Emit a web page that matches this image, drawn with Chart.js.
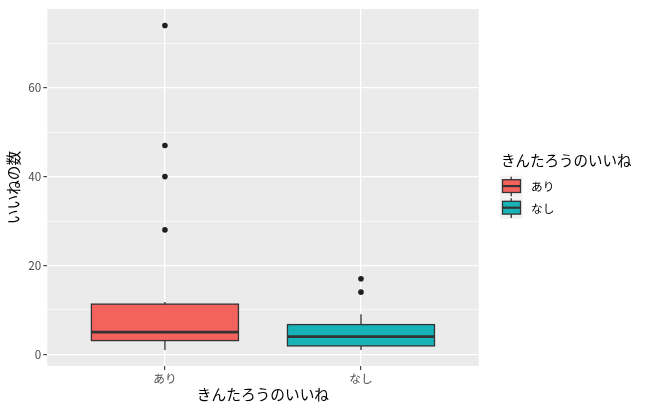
<!DOCTYPE html>
<html lang="ja">
<head>
<meta charset="utf-8">
<script src="https://cdn.jsdelivr.net/npm/chart.js@4.4.1/dist/chart.umd.min.js"></script>
<style>
  html, body { margin: 0; padding: 0; background: #fff; }
  #wrap { width: 647px; height: 410px; }
</style>
</head>
<body>
<div id="wrap"><canvas id="likesChart"></canvas></div>
<script>
// データ
const groups = ['あり', 'なし'];
const groupColors = ['#F4625E', '#17B3B8'];
const whiskerLow = [1, 1];
const q1 = [3.1, 1.9];
const medians = [5, 4];
const q3 = [11.3, 6.7];
const whiskerHigh = [11.8, 9];
const outliersAri = [74, 47, 40, 28];
const outliersNashi = [17, 14];
const yTicks = [0, 10, 20, 30, 40, 50, 60, 70];
const yLabelTicks = [0, 20, 40, 60];

const FONT = "'Noto Sans CJK JP', 'Noto Sans', sans-serif";
const LINE = '#333333';

const outlierPoints = [
    ...outliersAri.map(v => ({ x: 1, y: v })),
    ...outliersNashi.map(v => ({ x: 2, y: v }))
];

// パネル背景
const panelBackground = {
    id: 'panelBackground',
    beforeDraw(chart) {
        const { ctx, chartArea: a } = chart;
        ctx.save();
        ctx.fillStyle = '#EBEBEB';
        ctx.fillRect(a.left, a.top, a.right - a.left, a.bottom - a.top);
        ctx.restore();
    }
};

// 箱ひげ図
const boxes = {
    id: 'boxes',
    beforeDatasetsDraw(chart) {
        const { ctx, scales: { x, y } } = chart;
        const halfWidth = 0.375;
        ctx.save();
        groups.forEach((g, i) => {
            const cx = x.getPixelForValue(i + 1);
            const left = x.getPixelForValue(i + 1 - halfWidth);
            const right = x.getPixelForValue(i + 1 + halfWidth);
            const yQ1 = y.getPixelForValue(q1[i]);
            const yQ3 = y.getPixelForValue(q3[i]);

            ctx.strokeStyle = LINE;
            ctx.lineWidth = 1.3;
            ctx.beginPath();
            ctx.moveTo(cx, y.getPixelForValue(whiskerLow[i]));
            ctx.lineTo(cx, yQ1);
            ctx.moveTo(cx, yQ3);
            ctx.lineTo(cx, y.getPixelForValue(whiskerHigh[i]));
            ctx.stroke();

            ctx.fillStyle = groupColors[i];
            ctx.fillRect(left, yQ3, right - left, yQ1 - yQ3);
            ctx.strokeRect(left, yQ3, right - left, yQ1 - yQ3);

            ctx.lineWidth = 2.8;
            ctx.beginPath();
            ctx.moveTo(left, y.getPixelForValue(medians[i]));
            ctx.lineTo(right, y.getPixelForValue(medians[i]));
            ctx.stroke();
        });
        ctx.restore();
    }
};

// 凡例
const boxLegend = {
    id: 'boxLegend',
    afterDraw(chart) {
        const { ctx } = chart;
        ctx.save();
        ctx.fillStyle = '#000';
        ctx.font = '14.5px ' + FONT;
        ctx.textBaseline = 'middle';
        ctx.fillText('きんたろうのいいね', 501, 160);

        groups.forEach((g, i) => {
            const kx = 500, kw = 22.5, kh = 21.6;
            const ky = 175.7 + i * kh;
            const cx = kx + kw / 2;
            ctx.fillStyle = '#F2F2F2';
            ctx.fillRect(kx, ky, kw, kh);

            ctx.strokeStyle = LINE;
            ctx.lineWidth = 1.3;
            ctx.beginPath();
            ctx.moveTo(cx, ky + 1);
            ctx.lineTo(cx, ky + kh - 1);
            ctx.stroke();

            const bx = kx + 2.5, bw = kw - 4.5;
            const by = ky + 4, bh = 12.8;
            ctx.fillStyle = groupColors[i];
            ctx.fillRect(bx, by, bw, bh);
            ctx.strokeRect(bx, by, bw, bh);
            ctx.lineWidth = 2.2;
            ctx.beginPath();
            ctx.moveTo(bx, by + bh / 2);
            ctx.lineTo(bx + bw, by + bh / 2);
            ctx.stroke();

            ctx.fillStyle = '#000';
            ctx.font = '11.7px ' + FONT;
            ctx.fillText(g, 531, ky + kh / 2 + 0.5);
        });
        ctx.restore();
    }
};

const ctx = document.getElementById('likesChart').getContext('2d');
new Chart(ctx, {
    type: 'scatter',
    data: {
        datasets: [{
            label: '外れ値',
            data: outlierPoints,
            backgroundColor: '#1F1F1F',
            borderColor: '#1F1F1F',
            borderWidth: 0,
            pointRadius: 2.8,
            pointHoverRadius: 2.8
        }]
    },
    options: {
        responsive: true,
        maintainAspectRatio: false,
        animation: false,
        events: [],
        layout: { padding: { left: 0, top: 7.3, right: 168.4, bottom: 0 } },
        plugins: {
            legend: { display: false },
            tooltip: { enabled: false }
        },
        scales: {
            x: {
                type: 'linear',
                min: 0.4,
                max: 2.6,
                afterBuildTicks: scale => { scale.ticks = groups.map((g, i) => ({ value: i + 1 })); },
                afterFit: scale => { scale.height = 44; },
                ticks: {
                    callback: v => groups[v - 1],
                    color: '#4D4D4D',
                    font: { family: FONT, size: 11.7 },
                    padding: 2,
                    maxRotation: 0
                },
                grid: {
                    color: '#FFFFFF',
                    lineWidth: 1.3,
                    tickColor: LINE,
                    tickLength: 4,
                    tickWidth: 1.1
                },
                border: { display: false },
                title: {
                    display: true,
                    text: 'きんたろうのいいね',
                    color: '#000',
                    font: { family: FONT, size: 14.7 },
                    padding: { top: 0, bottom: 7.2 }
                }
            },
            y: {
                min: -2.62,
                max: 77.7,
                afterBuildTicks: scale => { scale.ticks = yTicks.map(v => ({ value: v })); },
                afterFit: scale => { scale.width = 47.3; },
                ticks: {
                    callback: v => yLabelTicks.includes(v) ? String(v) : '',
                    color: '#4D4D4D',
                    font: { family: FONT, size: 11.7 },
                    padding: 2
                },
                grid: {
                    color: '#FFFFFF',
                    lineWidth: c => yLabelTicks.includes(c.tick.value) ? 1.3 : 0.65,
                    tickColor: c => yLabelTicks.includes(c.tick.value) ? LINE : 'rgba(0,0,0,0)',
                    tickLength: 4,
                    tickWidth: 1.1
                },
                border: { display: false },
                title: {
                    display: true,
                    text: 'いいねの数',
                    color: '#000',
                    font: { family: FONT, size: 14.7 },
                    padding: { top: 4.7, bottom: 0 }
                }
            }
        }
    },
    plugins: [panelBackground, boxes, boxLegend]
});
</script>
</body>
</html>
